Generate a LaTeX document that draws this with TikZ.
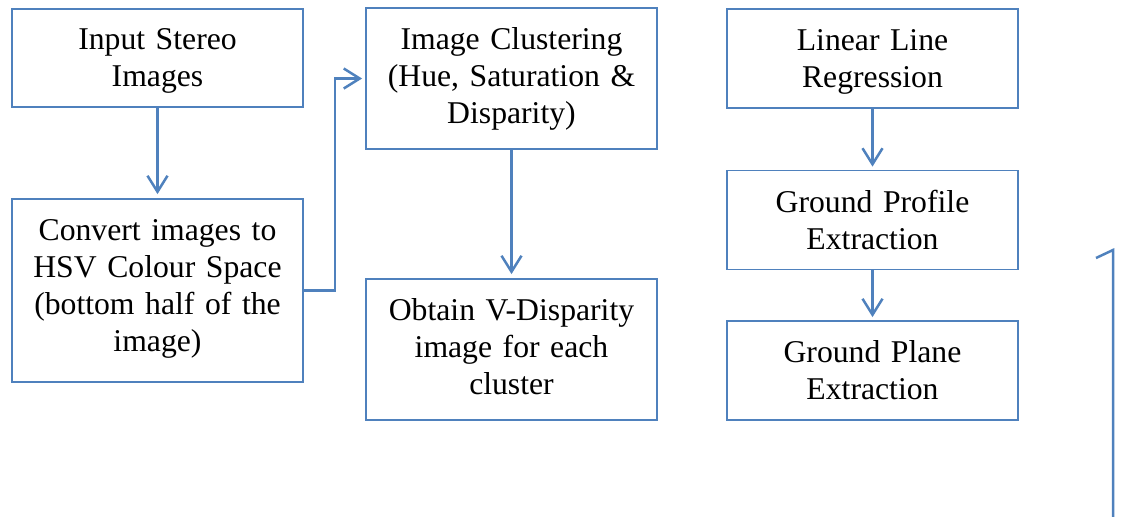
\documentclass[tikz,border=0pt]{standalone}
\usepackage{fontspec}
\setmainfont{Liberation Serif}
\usetikzlibrary{arrows.meta}
\definecolor{boxblue}{RGB}{79,129,189}
\newcommand\mytopstrut[1]{\rule{0pt}{#1}}
\newcommand\mybotstrut[1]{\rule[-#1]{0pt}{#1}}
\begin{document}
\begin{tikzpicture}[x=1pt,y=-1pt,
  box/.style={draw=boxblue, line width=1.8pt, minimum width=291pt, text width=280pt,
    align=center, inner sep=0pt, font=\fontsize{31.7}{37}\selectfont},
  conn/.style={draw=boxblue, line width=2.5pt,
    -{Straight Barb[length=16pt,width=20pt,line width=2.5pt]}},
  plainline/.style={draw=boxblue, line width=2.5pt}]
\useasboundingbox (0,0) rectangle (1128,517);
\node[box, minimum height=98pt]  (in)   at (157.5,58)   {\mytopstrut{27.5pt}Input Stereo\\Images};
\node[box, minimum height=183pt] (conv) at (157.5,290.5) {Convert images to\\HSV Colour Space\\(bottom half of the\\image)\mybotstrut{10.8pt}};
\node[box, minimum height=141pt] (clus) at (511.5,78.5) {Image Clustering\\(Hue, Saturation \&\\Disparity)};
\node[box, minimum height=141pt] (obt)  at (511.5,349.5) {Obtain V-Disparity\\image for each\\cluster\mybotstrut{6pt}};
\node[box, minimum height=99pt]  (lin)  at (872.5,58.5) {\mytopstrut{28pt}Linear Line\\Regression};
\node[box, minimum height=99pt]  (gpro) at (872.5,220)  {Ground Profile\\Extraction};
\node[box, minimum height=99pt]  (gpl)  at (872.5,370.5) {Ground Plane\\Extraction};
\draw[conn, shorten >=4pt] (in.south) -- (conv.north);
\draw[conn, shorten >=3pt] (conv.east) -- ++(31,0) |- (clus.west);
\draw[conn, shorten >=4pt] (clus.south) -- (obt.north);
\draw[conn, shorten >=3pt] (lin.south) -- (gpro.north);
\draw[conn, shorten >=3pt] (gpro.south) -- (gpl.north);
\coordinate (s0) at (1113,517);
\coordinate (s1) at (1113,250);
\coordinate (s2) at (1096,258);
\draw[plainline, line join=miter] (s0) -- (s1) -- (s2);
\end{tikzpicture}
\end{document}
